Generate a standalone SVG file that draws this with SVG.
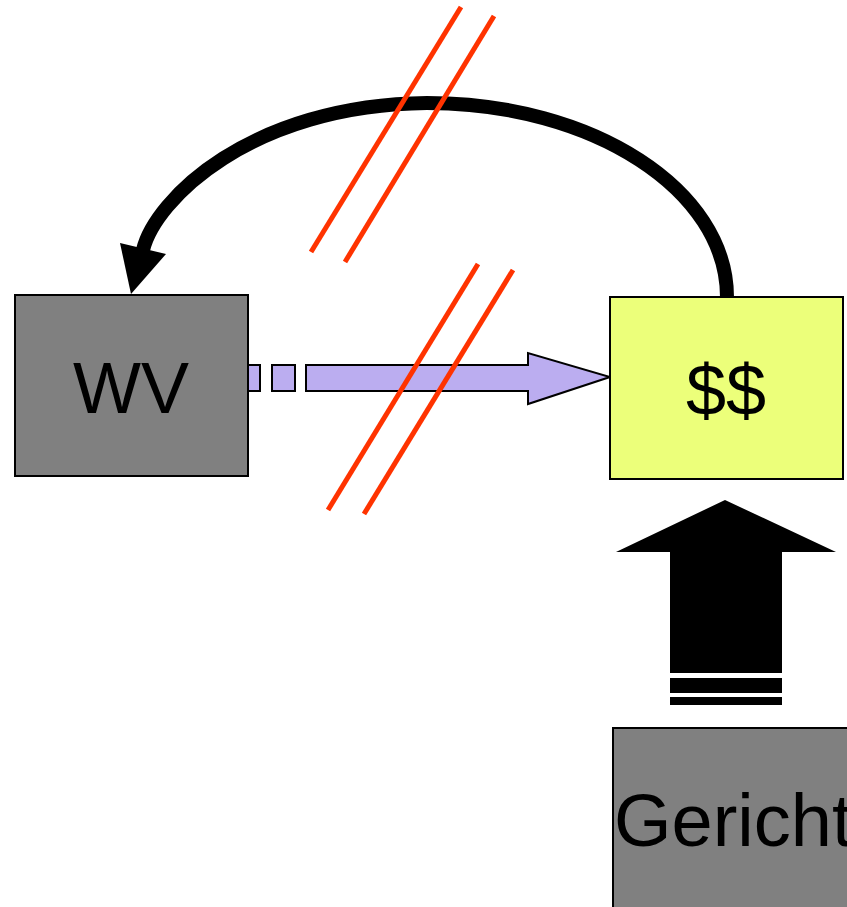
<svg xmlns="http://www.w3.org/2000/svg" width="847" height="907" viewBox="0 0 847 907">
<style>
.box{stroke:#000;stroke-width:2}
.lbl{font-family:"Liberation Sans",Arial,sans-serif;font-size:72px;fill:#000}
.red{stroke:#FF3300;stroke-width:5;fill:none}
</style>
<rect width="847" height="907" fill="#fff"/>
<g id="connectors">
<path d="M727 297 C727 190 593 103 427 103 C250 105 155 200 143 250" fill="none" stroke="#000" stroke-width="14"/>
<polygon points="120,243 166,254 131,294" fill="#000"/>
<g fill="#BBADF0" stroke="#000" stroke-width="2">
<rect x="248" y="365" width="12" height="26"/>
<rect x="272" y="365" width="23" height="26"/>
<polygon points="306,365 528,365 528,353 610,377 528,404 528,391 306,391"/>
</g>
<g fill="#000">
<polygon points="725,500 836,552 782,552 782,673 670,673 670,552 616,552"/>
<rect x="670" y="678" width="112" height="15"/>
<rect x="670" y="697" width="112" height="8"/>
</g>
</g>
<g id="WV">
<rect class="box" x="15" y="295" width="233" height="181" fill="#808080"/>
<text class="lbl" x="131" y="413" text-anchor="middle">WV</text>
</g>
<g id="money">
<rect class="box" x="610" y="297" width="233" height="182" fill="#ECFF7A"/>
<text class="lbl" x="726" y="415" text-anchor="middle">$$</text>
</g>
<g id="Gericht">
<rect class="box" x="613" y="728" width="250" height="200" fill="#808080"/>
<text class="lbl" x="614" y="846" style="font-size:74px">Gericht</text>
</g>
<g id="breaks">
<line class="red" x1="311" y1="252" x2="461" y2="7"/>
<line class="red" x1="345" y1="262" x2="494" y2="16"/>
<line class="red" x1="478" y1="264" x2="328" y2="510"/>
<line class="red" x1="513" y1="270" x2="364" y2="514"/>
</g>
</svg>
